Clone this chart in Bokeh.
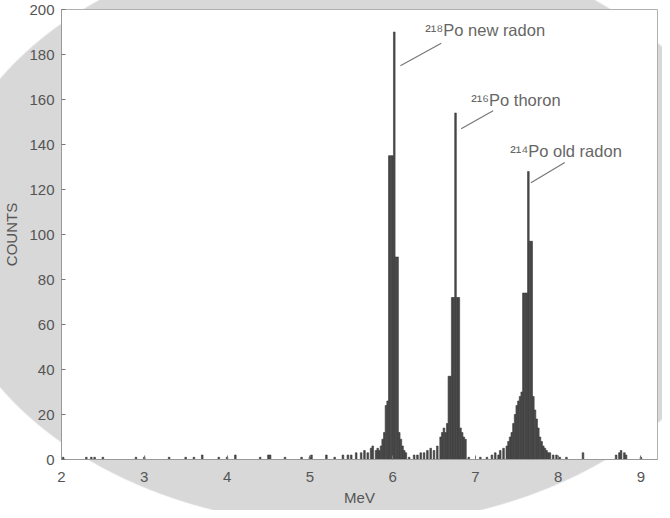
from bokeh.plotting import figure
from bokeh.models import ColumnDataSource, FixedTicker, Range1d, InlineStyleSheet
from bokeh.embed import file_html
from bokeh.resources import INLINE

# ---- data: alpha spectrum (bin centre in MeV, counts per 0.02 MeV bin) ----
energy_mev = [
    2.02, 2.30, 2.36, 2.40, 2.50, 2.90, 3.00, 3.30, 3.50, 3.60, 3.70, 3.90, 4.00,
    4.10, 4.40, 4.50, 4.52, 4.70, 4.90, 5.00, 5.02, 5.20, 5.30, 5.40, 5.46, 5.50,
    5.56, 5.62, 5.66, 5.70, 5.74, 5.76, 5.80, 5.82,
    5.84, 5.86, 5.88, 5.90, 5.92, 5.94, 5.96, 5.98, 6.00, 6.02, 6.04, 6.06, 6.08,
    6.10, 6.12, 6.14, 6.16,
    6.20, 6.26, 6.30, 6.34, 6.38, 6.42, 6.46, 6.50, 6.54, 6.58, 6.60, 6.62, 6.64,
    6.66, 6.68, 6.70, 6.72, 6.74, 6.76, 6.78, 6.80, 6.82, 6.84, 6.86, 6.88,
    6.92, 7.06, 7.14, 7.20, 7.24, 7.28, 7.30, 7.34, 7.38, 7.40, 7.42, 7.44, 7.46,
    7.48, 7.50, 7.52, 7.54, 7.56, 7.58, 7.60, 7.62, 7.64, 7.66, 7.68, 7.70, 7.72,
    7.74, 7.76, 7.78, 7.80, 7.82, 7.84, 7.86, 7.88, 7.90, 7.94, 7.98, 8.02, 8.10,
    8.30, 8.70, 8.74, 8.76, 8.80, 8.82, 9.00,
]
counts = [
    1, 1, 1, 1, 1, 1, 1, 1, 1, 1, 2, 1, 1,
    2, 1, 2, 2, 1, 1, 1, 2, 2, 1, 2, 2, 2,
    3, 3, 4, 3, 5, 6, 4, 5,
    4, 6, 9, 12, 24, 26, 135, 135, 135, 190, 90, 90, 12,
    9, 6, 4, 3,
    1, 2, 2, 3, 3, 4, 5, 4, 6, 10, 12, 14, 12,
    16, 37, 37, 72, 72, 154, 72, 72, 14, 12, 10, 9,
    1, 1, 1, 2, 3, 2, 4, 5, 6, 8, 10, 12, 16,
    20, 24, 26, 28, 30, 74, 74, 74, 128, 97, 97, 28, 22,
    18, 14, 10, 8, 6, 5, 4, 3, 3, 2, 2, 1, 1,
    3, 2, 3, 4, 3, 2, 1,
]

peak_labels = ["\u00b2\u00b9\u2078Po new radon", "\u00b2\u00b9\u2076Po thoron", "\u00b2\u00b9\u2074Po old radon"]
peak_energy = [6.02, 6.76, 7.64]
peak_counts = [190, 154, 128]

x_ticks = [2, 3, 4, 5, 6, 7, 8, 9]
y_ticks = [0, 20, 40, 60, 80, 100, 120, 140, 160, 180, 200]

# ---- figure ----
FONT = "Liberation Sans"
p = figure(width=662, height=508, output_backend="svg", toolbar_location=None,
           x_range=Range1d(2, 9.2), y_range=Range1d(0, 200),
           min_border_left=59, min_border_right=5, min_border_top=9, min_border_bottom=48)
p.border_fill_alpha = 0
p.background_fill_color = "white"
p.outline_line_color = "#b0b0b0"
p.grid.visible = False

# light grey oval behind the chart (as in the scanned original)
p.stylesheets = [InlineStyleSheet(css="""
:host { position: relative; }
:host::before {
  content: ''; position: absolute; left: -8px; top: -8px; width: 670px; height: 518px;
  background: radial-gradient(ellipse 409px 294px at 355px 241px, #d8d8d8 99.5%, rgba(255,255,255,0) 100%);
  z-index: -1;
}
""")]

src = ColumnDataSource(dict(x=energy_mev, top=counts))
p.vbar(x="x", top="top", width=0.02, bottom=0, source=src,
       fill_color="#4a4a4a", line_color="#3a3a3a", line_width=0.6)

# annotation texts and leader lines, placed relative to each peak
lab_dx = [0.375, 0.19, -0.22]
lab_dy = [1, 6, 9]
line_start_dx = [0.074, 0.068, 0.031]
line_start_dy = [-15, -7, -5]
line_end_dx = [0.568, 0.454, 0.44]
line_end_dy = [-5, 1, 4]
lab_src = ColumnDataSource(dict(
    x=[e + d for e, d in zip(peak_energy, lab_dx)],
    y=[c + d for c, d in zip(peak_counts, lab_dy)],
    text=peak_labels))
p.text(x="x", y="y", text="text", source=lab_src, text_font={"value": FONT},
       text_font_size="16.5px", text_color="#666666", text_baseline="middle", text_align="left")
p.segment(x0=[e + d for e, d in zip(peak_energy, line_start_dx)],
          y0=[c + d for c, d in zip(peak_counts, line_start_dy)],
          x1=[e + d for e, d in zip(peak_energy, line_end_dx)],
          y1=[c + d for c, d in zip(peak_counts, line_end_dy)],
          line_color="#777777", line_width=1.2)

# axes
for ax in (p.xaxis[0], p.yaxis[0]):
    ax.axis_line_color = "#999999"
    ax.major_tick_line_color = "#777777"
    ax.minor_tick_line_color = None
    ax.major_tick_out = 0
    ax.major_tick_in = 4
    ax.major_label_text_font = FONT
    ax.major_label_text_font_size = "15px"
    ax.major_label_text_color = "#555555"
    ax.axis_label_text_font = FONT
    ax.axis_label_text_font_style = "normal"
    ax.axis_label_text_color = "#555555"
    ax.axis_label_text_font_size = "15px"
p.xaxis.ticker = FixedTicker(ticks=x_ticks)
p.yaxis.ticker = FixedTicker(ticks=y_ticks)
p.xaxis.axis_label = "MeV"
p.yaxis.axis_label = "COUNTS"
p.xaxis.major_label_standoff = 12
p.xaxis.axis_label_standoff = 4
p.yaxis.major_label_standoff = 7
p.yaxis.axis_label_standoff = 6

open("out.html", "w").write(file_html(p, INLINE))
